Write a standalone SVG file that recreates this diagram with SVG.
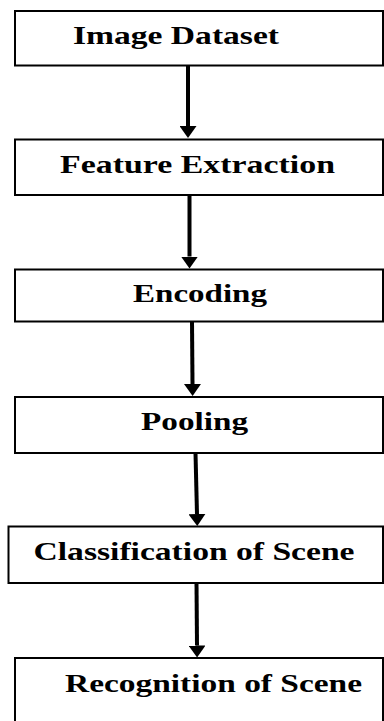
<svg xmlns="http://www.w3.org/2000/svg" width="384" height="721" viewBox="0 0 384 721">
<style>
.box{fill:#fff;stroke:#000;stroke-width:2}
.lbl{font-family:"Liberation Serif","Times New Roman",serif;font-weight:bold;font-size:26px;fill:#000}
.conn{stroke:#000;stroke-width:4;fill:none}
</style>
<defs>
<marker id="ah" viewBox="0 0 12 17" refX="0" refY="8.5" markerWidth="12" markerHeight="17" markerUnits="userSpaceOnUse" orient="auto">
<path d="M0,0 L12,8.5 L0,17 Z" fill="#000"/>
</marker>
</defs>
<rect width="384" height="721" fill="#fff"/>
<g id="n1">
<rect class="box" x="15" y="11" width="368" height="54.5"/>
<text class="lbl" x="73" y="44" textLength="206" lengthAdjust="spacingAndGlyphs">Image Dataset</text>
</g>
<g id="n2">
<rect class="box" x="15" y="139.5" width="368" height="55.5"/>
<text class="lbl" x="60" y="172.5" textLength="275" lengthAdjust="spacingAndGlyphs">Feature Extraction</text>
</g>
<g id="n3">
<rect class="box" x="15" y="269.5" width="368" height="52"/>
<text class="lbl" x="133" y="302" textLength="134" lengthAdjust="spacingAndGlyphs">Encoding</text>
</g>
<g id="n4">
<rect class="box" x="15" y="397" width="368" height="56"/>
<text class="lbl" x="141" y="429.5" textLength="107" lengthAdjust="spacingAndGlyphs">Pooling</text>
</g>
<g id="n5">
<rect class="box" x="8.5" y="526.5" width="374.5" height="56.5"/>
<text class="lbl" x="33.5" y="559.5" textLength="321" lengthAdjust="spacingAndGlyphs">Classification of Scene</text>
</g>
<g id="n6">
<rect class="box" x="15" y="658" width="368" height="80"/>
<text class="lbl" x="65" y="692" textLength="297" lengthAdjust="spacingAndGlyphs">Recognition of Scene</text>
</g>
<g id="connectors">
<line class="conn" x1="188" y1="65.5" x2="188" y2="126" marker-end="url(#ah)"/>
<line class="conn" x1="189.5" y1="195" x2="189.5" y2="256.5" marker-end="url(#ah)"/>
<line class="conn" x1="192" y1="321.5" x2="192.5" y2="384" marker-end="url(#ah)"/>
<line class="conn" x1="195.5" y1="453" x2="197" y2="514" marker-end="url(#ah)"/>
<line class="conn" x1="196.5" y1="583" x2="197" y2="645.5" marker-end="url(#ah)"/>
</g>
</svg>
